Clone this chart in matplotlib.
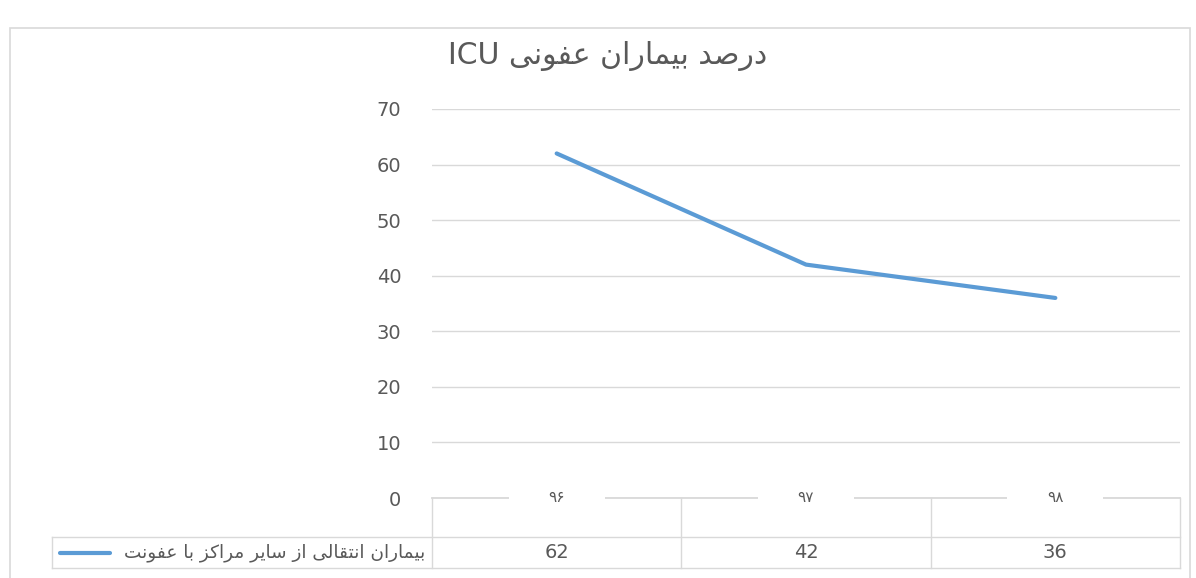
import matplotlib
matplotlib.use('Agg')
from matplotlib import pyplot as plt
from matplotlib.patches import Rectangle
from matplotlib.lines import Line2D
import matplotlib.transforms as mtransforms

# data
years = ['۹۶', '۹۷', '۹۸']
values = [62, 42, 36]
series_name = 'بیماران انتقالی از سایر مراکز با عفونت'
title_fa = 'درصد بیماران عفونی'
title_en = 'ICU'
y_ticks = [0, 10, 20, 30, 40, 50, 60, 70]

BLUE = '#5B9BD5'
GRID = '#D9D9D9'
TEXT = '#595959'

# isolated, final, initial, medial presentation forms
FORMS = {
    'ا': ('\uFE8D', '\uFE8E', None, None),
    'ب': ('\uFE8F', '\uFE90', '\uFE91', '\uFE92'),
    'ت': ('\uFE95', '\uFE96', '\uFE97', '\uFE98'),
    'د': ('\uFEA9', '\uFEAA', None, None),
    'ر': ('\uFEAD', '\uFEAE', None, None),
    'ز': ('\uFEAF', '\uFEB0', None, None),
    'س': ('\uFEB1', '\uFEB2', '\uFEB3', '\uFEB4'),
    'ص': ('\uFEB9', '\uFEBA', '\uFEBB', '\uFEBC'),
    'ع': ('\uFEC9', '\uFECA', '\uFECB', '\uFECC'),
    'ف': ('\uFED1', '\uFED2', '\uFED3', '\uFED4'),
    'ق': ('\uFED5', '\uFED6', '\uFED7', '\uFED8'),
    'ک': ('\uFB8E', '\uFB8F', '\uFB90', '\uFB91'),
    'ل': ('\uFEDD', '\uFEDE', '\uFEDF', '\uFEE0'),
    'م': ('\uFEE1', '\uFEE2', '\uFEE3', '\uFEE4'),
    'ن': ('\uFEE5', '\uFEE6', '\uFEE7', '\uFEE8'),
    'و': ('\uFEED', '\uFEEE', None, None),
    'ی': ('\uFBFC', '\uFBFD', '\uFBFE', '\uFBFF'),
}


def joins_next(ch):
    return ch in FORMS and FORMS[ch][2] is not None


def shape(text):
    out = []
    for i, ch in enumerate(text):
        if ch not in FORMS:
            out.append(ch)
            continue
        prev = text[i - 1] if i > 0 else ''
        nxt = text[i + 1] if i + 1 < len(text) else ''
        left = joins_next(prev)
        right = joins_next(ch) and nxt in FORMS
        isol, fin, ini, med = FORMS[ch]
        if left and right:
            out.append(med)
        elif left:
            out.append(fin)
        elif right:
            out.append(ini)
        else:
            out.append(isol)
    return ''.join(reversed(out))


plt.rcParams['font.family'] = ['DejaVu Sans']

fig = plt.figure(figsize=(11.96, 5.78), dpi=100)
W, H = 1196, 578

# outer chart frame
fig.patches.append(Rectangle((10 / W, -0.05), 1180 / W, 0.05 + (H - 28) / H,
                             transform=fig.transFigure, fill=False,
                             edgecolor=GRID, lw=1.2))

ax = fig.add_axes([432 / W, (H - 498) / H, 748 / W, 389 / H])
x = list(range(len(years)))
ax.plot(x, values, color=BLUE, lw=3, solid_capstyle='round', zorder=3)
ax.set_xlim(-0.5, len(years) - 0.5)
ax.set_ylim(0, 70)
ax.set_yticks(y_ticks)
ax.yaxis.grid(True, color=GRID, lw=1)
ax.axhline(0, color=GRID, lw=1.3, clip_on=False, zorder=1)
ax.set_axisbelow(True)
for s in ax.spines.values():
    s.set_visible(False)
ax.tick_params(axis='y', length=0, pad=22, labelsize=14, labelcolor=TEXT)
ax.set_xticks([])

fig.text(608 / W, (H - 56) / H, title_en + ' ' + shape(title_fa),
         ha='center', va='center', fontsize=21.5, color=TEXT)

# data table below the axis
tb = mtransforms.blended_transform_factory(ax.transData, ax.transAxes)
row1 = -39 / 389
row2 = -70 / 389
for i, yr in enumerate(years):
    ax.text(i, 0, yr, transform=tb, ha='center', va='center', fontsize=11,
            color=TEXT, zorder=4,
            bbox=dict(boxstyle='square,pad=0.3', facecolor='white',
                      edgecolor='none'))
    ax.text(i, 0, ' ' * 19, transform=tb, ha='center', va='center',
            fontsize=11, zorder=3.5,
            bbox=dict(boxstyle='square,pad=0.1', facecolor='white',
                      edgecolor='none'))
    ax.text(i, (row1 + row2) / 2, str(values[i]), transform=tb, ha='center',
            va='center', fontsize=14, color=TEXT)
for xb in [-0.5, 0.5, 1.5, 2.5]:
    ax.add_line(Line2D([xb, xb], [0, row2], transform=tb, color=GRID, lw=1,
                       clip_on=False))
left_ax = (52 - 432) / 748
for yb in [row1, row2]:
    ax.add_line(Line2D([left_ax, 1], [yb, yb], transform=ax.transAxes,
                       color=GRID, lw=1, clip_on=False))
ax.add_line(Line2D([left_ax, left_ax], [row1, row2], transform=ax.transAxes,
                   color=GRID, lw=1, clip_on=False))

# legend key inside the table
ymid = (row1 + row2) / 2
ax.text((425 - 432) / 748, ymid, shape(series_name), transform=ax.transAxes,
        ha='right', va='center', fontsize=13.3, color=TEXT)
ax.add_line(Line2D([(60 - 432) / 748, (110 - 432) / 748], [ymid, ymid],
                   transform=ax.transAxes, color=BLUE, lw=3,
                   solid_capstyle='round', clip_on=False))

fig.savefig('out.png', dpi=100)
